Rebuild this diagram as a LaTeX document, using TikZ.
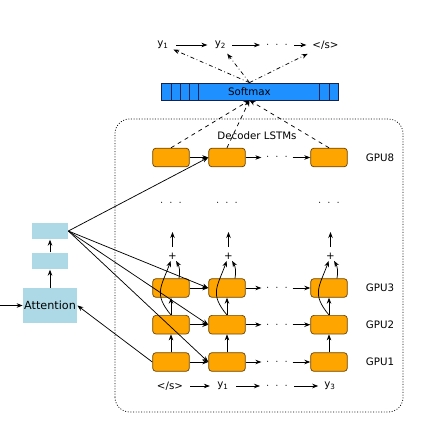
\documentclass[tikz,border=0pt]{standalone}
\usepackage{fontspec}
\setmainfont{DejaVu Sans}
\usetikzlibrary{arrows.meta,calc,shapes.geometric,positioning}
\definecolor{attnblue}{RGB}{173,216,230}
\definecolor{softblue}{RGB}{30,144,255}
\definecolor{softedge}{RGB}{20,35,80}
\definecolor{cellfill}{RGB}{255,165,0}
\definecolor{celledge}{RGB}{110,70,10}
\newcommand{\dotrow}{${\cdot}\hspace{4.6pt}{\cdot}\hspace{4.6pt}{\cdot}$}
\tikzset {
  >={Stealth[length=4.5pt,width=3.4pt]},
  every node/.style={font=\fontsize{7.7}{9}\selectfont},
  cell/.style={draw=celledge,fill=cellfill,rounded corners=2.5pt,
    minimum width=27.5pt,minimum height=14pt,inner sep=0pt},
  attn/.style={fill=attnblue,inner sep=0pt},
}

\begin{document}
\begin{tikzpicture}[x=0.75pt,y=0.75pt,line width=0.55pt]
          \useasboundingbox (0,0) rectangle (436,426);
          % dotted frame round the decoder
          \draw[dash pattern=on 0.7pt off 1.3pt,rounded corners=11pt] (115,14) rectangle (403,307);
          \node (dl) at (257,290) {Decoder LSTMs};
          % softmax and outputs
          \node[draw=softedge,fill=softblue,minimum width=132.75pt,minimum height=12.75pt,inner sep=0pt]
          (sm) at (249.5,334.5) {Softmax};
          \draw[softedge] (171,326) -- (171,343) (180,326) -- (180,343) (189,326) -- (189,343)
          (198,326) -- (198,343) (319,326) -- (319,343) (329,326) -- (329,343);
          \node (o1) at (163,381) {y\textsubscript{1}};
          \node (o2) at (220.5,381) {y\textsubscript{2}};
          \node (o3) at (277,381) {\dotrow};
          \node (o4) at (325.5,381) {</s>};
          \draw[->,shorten <=2pt,shorten >=2pt] (o1) -- (o2);
          \draw[->,shorten <=1pt,shorten >=1pt] (o2) -- (o3);
          \draw[->,shorten <=1pt,shorten >=1pt] (o3) -- (o4);
          \draw[->,dash dot] (sm.north) -- (o1);
          \draw[->,dash dot] (sm.north) -- (o2);
          \draw[->,dash dot] (sm.north) -- (o4);
          % LSTM cells
          \node[cell] (g8a) at (171,268.5) {};
          \node[cell] (g8b) at (227,268.5) {};
          \node[cell] (g8c) at (329,268.5) {};
          \node[cell] (g3a) at (171,138) {};
          \node[cell] (g3b) at (227,138) {};
          \node[cell] (g3c) at (329,138) {};
          \node[cell] (g2a) at (171,101.3) {};
          \node[cell] (g2b) at (227,101.3) {};
          \node[cell] (g2c) at (329,101.3) {};
          \node[cell] (g1a) at (171,64) {};
          \node[cell] (g1b) at (227,64) {};
          \node[cell] (g1c) at (329,64) {};
          \node (gl8) at (380,268.5) {GPU8};
          \node (gl3) at (380,138) {GPU3};
          \node (gl2) at (380,101.3) {GPU2};
          \node (gl1) at (380,64) {GPU1};
          % dots between columns and rows
          \node (d8) at (277,268.5) {\dotrow};
          \node (d3) at (277,138) {\dotrow};
          \node (d2) at (277,101.3) {\dotrow};
          \node (d1) at (277,64) {\dotrow};
          \node (va) at (171,223) {\dotrow};
          \node (vb) at (227,223) {\dotrow};
          \node (vc) at (329,223) {\dotrow};
          % inputs
          \node (i0) at (170,40) {</s>};
          \node (i1) at (223,40) {y\textsubscript{1}};
          \node (i2) at (277,40) {\dotrow};
          \node (i3) at (330,40) {y\textsubscript{3}};
          \draw[->,shorten <=2pt,shorten >=2pt] (i0) -- (i1);
          \draw[->,shorten <=2pt,shorten >=1pt] (i1) -- (i2);
          \draw[->,shorten <=1pt,shorten >=1pt] (i2) -- (i3);
          % horizontal arrows
          \draw[->] (g8a) -- (g8b);
          \draw[->] (g8b) -- (d8);
          \draw[->] (d8) -- (g8c);
          \draw[->] (g3a) -- (g3b);
          \draw[->] (g3b) -- (d3);
          \draw[->] (d3) -- (g3c);
          \draw[->] (g2a) -- (g2b);
          \draw[->] (g2b) -- (d2);
          \draw[->] (d2) -- (g2c);
          \draw[->] (g1a) -- (g1b);
          \draw[->] (g1b) -- (d1);
          \draw[->] (d1) -- (g1c);
          % vertical arrows
          \draw[->] (g1a) -- (g2a);
          \draw[->] (g2a) -- (g3a);
          \draw[->] (g1b) -- (g2b);
          \draw[->] (g2b) -- (g3b);
          \draw[->] (g1c) -- (g2c);
          \draw[->] (g2c) -- (g3c);
          % residual adds above GPU3
          \node[inner sep=1pt] (pa) at (172.5,170) {+};
          \node[inner sep=1pt] (pb) at (228.5,170) {+};
          \node[inner sep=1pt] (pc) at (330.5,170) {+};
          \coordinate (ua) at (172.5,194);
          \coordinate (ub) at (228.5,194);
          \coordinate (uc) at (330.5,194);
          \draw[->,shorten <=3pt] (pa) -- (ua);
          \draw[->,shorten <=3pt] (pb) -- (ub);
          \draw[->,shorten <=3pt] (pc) -- (uc);
          \draw[->] ([xshift=6pt]g3a.north) to[bend right=20] (pa);
          \draw[->] ([xshift=6pt]g3b.north) to[bend right=20] (pb);
          \draw[->] ([xshift=6pt]g3c.north) to[bend right=20] (pc);
          \draw[->] (g2a.north) to[out=130,in=250,looseness=1.3] (pa);
          \draw[->] (g2b.north) to[out=130,in=250,looseness=1.3] (pb);
          \draw[->] (g2c.north) to[out=130,in=250,looseness=1.3] (pc);
          % to softmax
          \draw[->,dashed] (g8a.north) -- (sm.south);
          \draw[->,dashed] (g8b.north) -- (sm.south);
          \draw[->,dashed] (g8c.north) -- (sm.south);
          % attention
          \node[attn,minimum width=40.5pt,minimum height=26.25pt,font=\fontsize{8.4}{10}\selectfont]
          (att) at (50,120.5) {Attention};
          \node[attn,minimum width=27pt,minimum height=12.5pt] (b2) at (50,165) {};
          \node[attn,minimum width=27pt,minimum height=12.5pt] (b1) at (50,195) {};
          \coordinate (src) at (0,120.5);
          \draw[->] (src) -- (att);
          \draw[->] (att) -- (b2);
          \draw[->] (b2) -- (b1);
          \draw[->] (g1a.west) -- (att.east);
          \draw[->] (b1.east) -- (g8b.west);
          \draw[->] (b1.east) -- (g3b.west);
          \draw[->] (b1.east) -- (g2b.west);
          \draw[->] (b1.east) -- (g1b.west);
        \end{tikzpicture}
\end{document}
